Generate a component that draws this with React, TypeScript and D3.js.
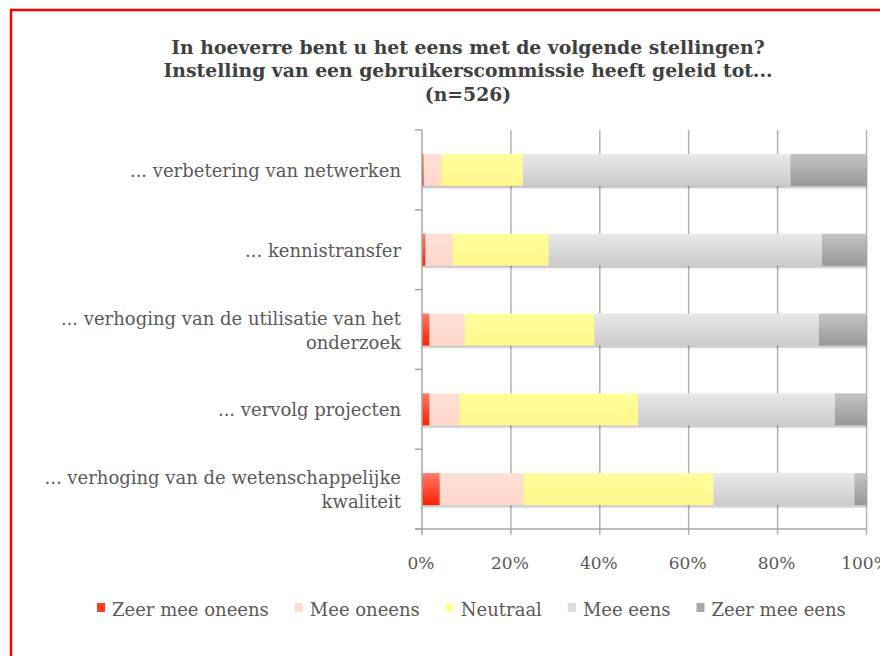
import React, { useEffect, useRef } from "react";
import * as d3 from "d3";

const titleLines = [
  "In hoeverre bent u het eens met de volgende stellingen?",
  "Instelling van een gebruikerscommissie heeft geleid tot...",
  "(n=526)",
];

const categories = [
  "... verbetering van netwerken",
  "... kennistransfer",
  "... verhoging van de utilisatie van het onderzoek",
  "... vervolg projecten",
  "... verhoging van de wetenschappelijke kwaliteit",
];
const categoryLines = [
  ["... verbetering van netwerken"],
  ["... kennistransfer"],
  ["... verhoging van de utilisatie van het", "onderzoek"],
  ["... vervolg projecten"],
  ["... verhoging van de wetenschappelijke", "kwaliteit"],
];

const seriesNames = ["Zeer mee oneens", "Mee oneens", "Neutraal", "Mee eens", "Zeer mee eens"];
const zeerMeeOneens = [0.4, 0.8, 1.7, 1.7, 4.0];
const meeOneens = [3.9, 6.1, 7.9, 6.7, 18.8];
const neutraal = [18.4, 21.6, 29.2, 40.2, 42.8];
const meeEens = [60.2, 61.5, 50.5, 44.3, 31.7];
const zeerMeeEens = [17.1, 10.0, 10.7, 7.1, 2.7];

const xTicks = [0, 20, 40, 60, 80, 100];

const seriesColors = [
  ["#ff7a6a", "#ff2000"],
  ["#ffe0d6", "#ffd6ca"],
  ["#ffff9e", "#fff68a"],
  ["#e9e9e9", "#cacaca"],
  ["#c4c4c4", "#979797"],
];
const legendColors = ["#ff3a25", "#ffdcd2", "#ffff99", "#dcdcdc", "#a8a8a8"];

export default function App() {
  const ref = useRef<SVGSVGElement>(null);

  useEffect(() => {
    const svg = d3.select(ref.current);
    svg.selectAll("*").remove();
    const W = 880, H = 656;
    const font = "'DejaVu Serif', serif";
    const textColor = "#595959";

    const defs = svg.append("defs");
    seriesColors.forEach((c, i) => {
      const g = defs.append("linearGradient").attr("id", "grad" + i)
        .attr("x1", 0).attr("y1", 0).attr("x2", 0).attr("y2", 1);
      g.append("stop").attr("offset", "0%").attr("stop-color", c[0]);
      g.append("stop").attr("offset", "100%").attr("stop-color", c[1]);
    });
    const f = defs.append("filter").attr("id", "shadow")
      .attr("x", "-5%").attr("y", "-20%").attr("width", "110%").attr("height", "160%");
    f.append("feDropShadow").attr("dx", 0).attr("dy", 2).attr("stdDeviation", 1.2)
      .attr("flood-color", "#000").attr("flood-opacity", 0.28);

    svg.append("rect").attr("width", W).attr("height", H).attr("fill", "#fff");
    // border
    svg.append("rect").attr("x", 11).attr("y", 10).attr("width", W + 20).attr("height", H + 20)
      .attr("fill", "none").attr("stroke", "#ff0000").attr("stroke-width", 2.5);

    // title
    const titleY = [54, 77, 101];
    titleLines.forEach((t, i) => {
      svg.append("text").attr("x", 468).attr("y", titleY[i]).attr("text-anchor", "middle")
        .attr("font-family", font).attr("font-weight", "bold").attr("font-size", 18.8)
        .attr("fill", "#404040").text(t);
    });

    const x = d3.scaleLinear().domain([0, 100]).range([422, 866.5]);
    const yOuter = d3.scaleBand<string>().domain(categories).range([130, 529]).padding(0);
    const y = d3.scaleBand<string>().domain(categories).range([130, 529])
      .paddingInner(0.6).paddingOuter(0.3);

    // gridlines
    svg.append("g").selectAll("line").data(xTicks.slice(1)).join("line")
      .attr("x1", (d) => x(d)).attr("x2", (d) => x(d))
      .attr("y1", 130).attr("y2", 535)
      .attr("stroke", "#b3b3b3").attr("stroke-width", 1.5);

    // data
    const rows = categories.map((c, i) => ({
      cat: c,
      [seriesNames[0]]: zeerMeeOneens[i],
      [seriesNames[1]]: meeOneens[i],
      [seriesNames[2]]: neutraal[i],
      [seriesNames[3]]: meeEens[i],
      [seriesNames[4]]: zeerMeeEens[i],
    }));
    const stacked = d3.stack<any>().keys(seriesNames)(rows);

    const barsG = svg.append("g");
    categories.forEach((c, ci) => {
      const rowG = barsG.append("g").attr("filter", "url(#shadow)");
      stacked.forEach((s, si) => {
        const d = s[ci];
        rowG.append("rect")
          .attr("x", x(d[0])).attr("width", x(d[1]) - x(d[0]))
          .attr("y", y(c)!).attr("height", y.bandwidth())
          .attr("fill", `url(#grad${si})`);
      });
    });

    // axes lines
    const axisColor = "#a6a6a6";
    svg.append("line").attr("x1", x(0)).attr("x2", x(0)).attr("y1", 130).attr("y2", 535)
      .attr("stroke", axisColor).attr("stroke-width", 1.5);
    svg.append("line").attr("x1", 415).attr("x2", x(100)).attr("y1", 529).attr("y2", 529)
      .attr("stroke", axisColor).attr("stroke-width", 1.5);
    const catTicks = categories.map((c) => yOuter(c)!).concat([529]);
    svg.append("g").selectAll("line").data(catTicks).join("line")
      .attr("x1", 415).attr("x2", x(0)).attr("y1", (d) => d).attr("y2", (d) => d)
      .attr("stroke", axisColor).attr("stroke-width", 1.5);

    // x tick labels
    svg.append("g").selectAll("text").data(xTicks).join("text")
      .attr("x", (d) => x(d) - 1).attr("y", 569).attr("text-anchor", "middle")
      .attr("font-family", font).attr("font-size", 17).attr("fill", textColor)
      .text((d) => d + "%");

    // category labels
    categories.forEach((c, ci) => {
      const lines = categoryLines[ci];
      const cy = y(c)! + y.bandwidth() / 2;
      const lh = 24;
      const start = cy - ((lines.length - 1) * lh) / 2 + 7;
      lines.forEach((l, li) => {
        svg.append("text").attr("x", 401).attr("y", start + li * lh)
          .attr("text-anchor", "end").attr("font-family", font).attr("font-size", 18)
          .attr("fill", textColor).text(l);
      });
    });

    // legend
    const legG = svg.append("g");
    let lx = 97;
    seriesNames.forEach((n, i) => {
      legG.append("rect").attr("x", lx).attr("y", 603).attr("width", 8).attr("height", 9)
        .attr("fill", legendColors[i]);
      const t = legG.append("text").attr("x", lx + 15).attr("y", 616)
        .attr("font-family", font).attr("font-size", 18).attr("fill", textColor).text(n);
      const w = (t.node() as SVGTextElement).getComputedTextLength();
      lx = lx + 15 + w + 26;
    });
  }, []);

  return (
    <div style={{ position: "absolute", left: 0, top: 0 }}>
      <svg ref={ref} width={880} height={656} style={{ display: "block" }} />
    </div>
  );
}
